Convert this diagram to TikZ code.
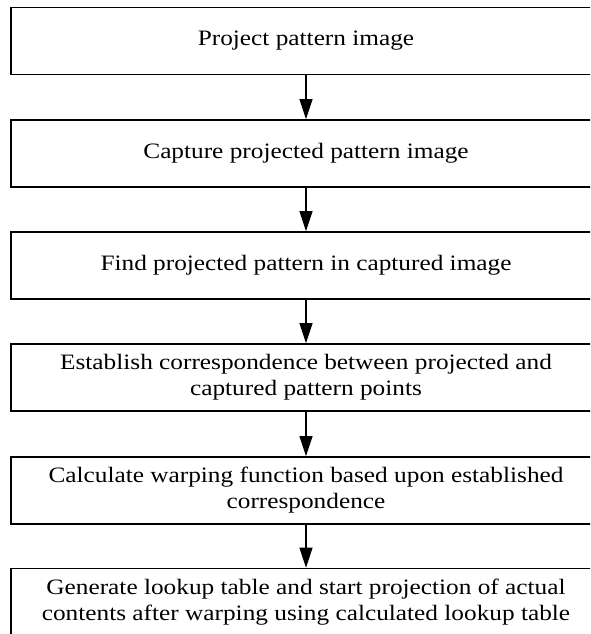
\documentclass[tikz,border=0pt]{standalone}
\usepackage{fontspec}
\setmainfont[FakeStretch=1.15]{Liberation Serif}
\usetikzlibrary{arrows.meta}
\begin{document}
\begin{tikzpicture}[x=1pt,y=1pt,
  stepbox/.style={draw=black, line width=1.6pt, minimum width=590pt,
    minimum height=67pt, inner sep=0pt, align=center,
    font=\fontsize{22}{26}\selectfont},
  flow/.style={line width=1.2pt, -{Triangle[length=20pt,width=13pt]}}]
  \useasboundingbox (0,0) rectangle (590,-634);
  \clip (0,0) rectangle (590,-634);
  \node[stepbox] (s1) at (306,-41) {Project pattern image};
  \node[stepbox] (s2) at (306,-153.5) {Capture projected pattern image};
  \node[stepbox] (s3) at (306,-265.5) {Find projected pattern in captured image};
  \node[stepbox] (s4) at (306,-377.5) {Establish correspondence between projected and\\captured pattern points};
  \node[stepbox] (s5) at (306,-490.5) {Calculate warping function based upon established\\correspondence};
  \node[stepbox] (s6) at (306,-602) {Generate lookup table and start projection of actual\\contents after warping using calculated lookup table};
  \draw[flow] (s1) -- (s2);
  \draw[flow] (s2) -- (s3);
  \draw[flow] (s3) -- (s4);
  \draw[flow] (s4) -- (s5);
  \draw[flow] (s5) -- (s6);
\end{tikzpicture}
\end{document}
